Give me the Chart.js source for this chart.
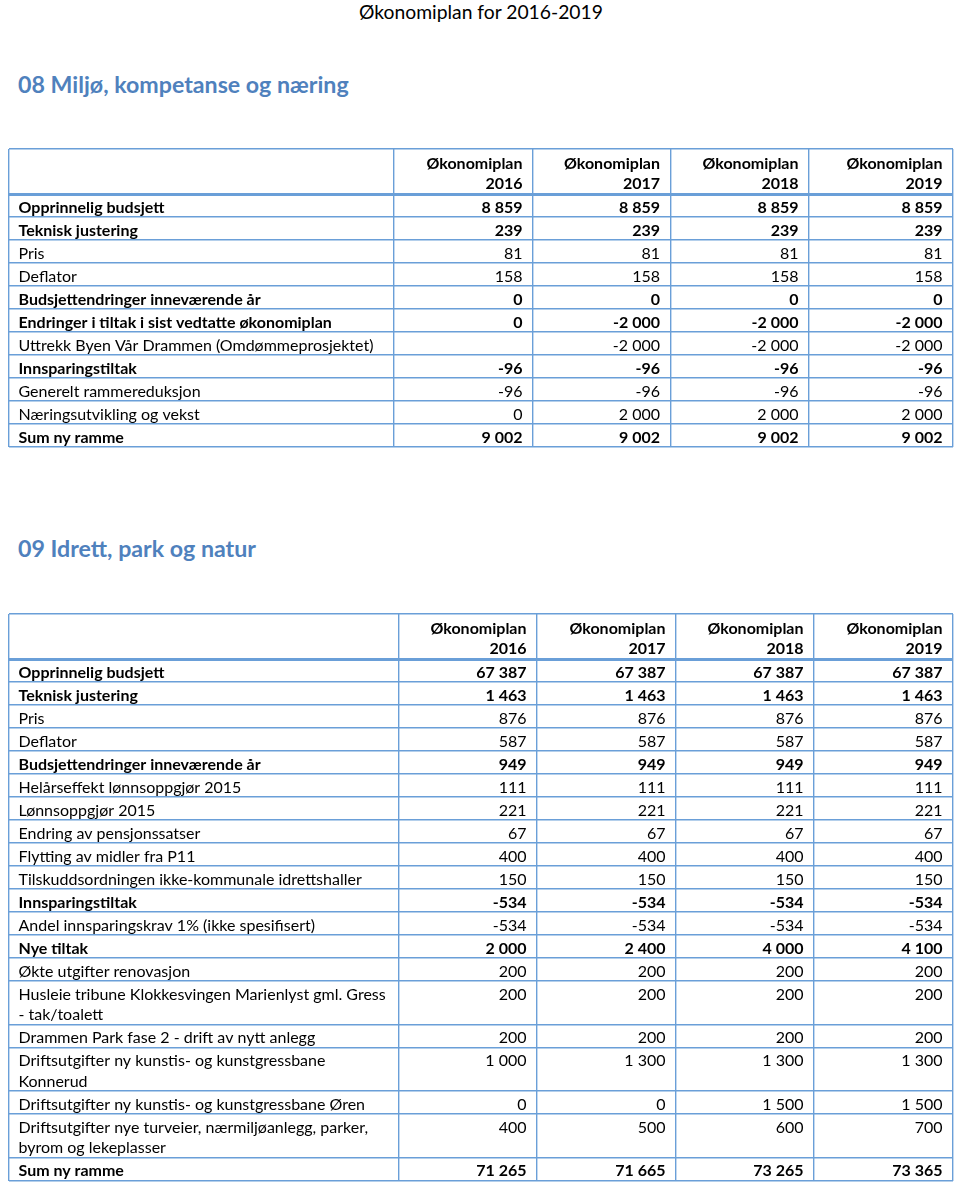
<!DOCTYPE html>
<html lang="no">
<head>
<meta charset="utf-8">
<title>Økonomiplan for 2016-2019</title>
<script src="https://cdn.jsdelivr.net/npm/chart.js@4.4.0/dist/chart.umd.min.js"></script>
<style>
  html, body { margin: 0; padding: 0; background: #fff; }
  body { width: 960px; height: 1183px; position: relative; overflow: hidden; font-family: Lato, 'Open Sans', sans-serif; }
  .page-head { position: absolute; top: 0; left: 0; width: 962px; text-align: center; font-size: 19.3px; line-height: 24px; color: #000; }
  h2 { position: absolute; left: 18px; margin: 0; font-size: 23.2px; line-height: 28px; font-weight: 700; color: #4f81bd; }
  canvas { position: absolute; left: 0; }
</style>
</head>
<body>
<div class="page-head">Økonomiplan for 2016-2019</div>
<h2 style="top:70px">08 Miljø, kompetanse og næring</h2>
<canvas id="tbl08"></canvas>
<h2 style="top:534px">09 Idrett, park og natur</h2>
<canvas id="tbl09"></canvas>

<script>
'use strict';

// ─── DATA ────────────────────────────────────────────────────

const YEARS = ['2016', '2017', '2018', '2019'];
const HEAD_WORD = 'Økonomiplan';

// 08 Miljø, kompetanse og næring
const T08_LABELS = [
  'Opprinnelig budsjett',
  'Teknisk justering',
  'Pris',
  'Deflator',
  'Budsjettendringer inneværende år',
  'Endringer i tiltak i sist vedtatte økonomiplan',
  'Uttrekk Byen Vår Drammen (Omdømmeprosjektet)',
  'Innsparingstiltak',
  'Generelt rammereduksjon',
  'Næringsutvikling og vekst',
  'Sum ny ramme'
];
const T08_BOLD = [true, true, false, false, true, true, false, true, false, false, true];
const T08_2016 = [8859, 239, 81, 158, 0, 0, null, -96, -96, 0, 9002];
const T08_2017 = [8859, 239, 81, 158, 0, -2000, -2000, -96, -96, 2000, 9002];
const T08_2018 = [8859, 239, 81, 158, 0, -2000, -2000, -96, -96, 2000, 9002];
const T08_2019 = [8859, 239, 81, 158, 0, -2000, -2000, -96, -96, 2000, 9002];

// 09 Idrett, park og natur
const T09_LABELS = [
  'Opprinnelig budsjett',
  'Teknisk justering',
  'Pris',
  'Deflator',
  'Budsjettendringer inneværende år',
  'Helårseffekt lønnsoppgjør 2015',
  'Lønnsoppgjør 2015',
  'Endring av pensjonssatser',
  'Flytting av midler fra P11',
  'Tilskuddsordningen ikke-kommunale idrettshaller',
  'Innsparingstiltak',
  'Andel innsparingskrav 1% (ikke spesifisert)',
  'Nye tiltak',
  'Økte utgifter renovasjon',
  ['Husleie tribune Klokkesvingen Marienlyst gml. Gress', '- tak/toalett'],
  'Drammen Park fase 2 - drift av nytt anlegg',
  ['Driftsutgifter ny kunstis- og kunstgressbane', 'Konnerud'],
  'Driftsutgifter ny kunstis- og kunstgressbane Øren',
  ['Driftsutgifter nye turveier, nærmiljøanlegg, parker,', 'byrom og lekeplasser'],
  'Sum ny ramme'
];
const T09_BOLD = [true, true, false, false, true, false, false, false, false, false,
                  true, false, true, false, false, false, false, false, false, true];
const T09_2016 = [67387, 1463, 876, 587, 949, 111, 221, 67, 400, 150, -534, -534, 2000, 200, 200, 200, 1000, 0, 400, 71265];
const T09_2017 = [67387, 1463, 876, 587, 949, 111, 221, 67, 400, 150, -534, -534, 2400, 200, 200, 200, 1300, 0, 500, 71665];
const T09_2018 = [67387, 1463, 876, 587, 949, 111, 221, 67, 400, 150, -534, -534, 4000, 200, 200, 200, 1300, 1500, 600, 73265];
const T09_2019 = [67387, 1463, 876, 587, 949, 111, 221, 67, 400, 150, -534, -534, 4100, 200, 200, 200, 1300, 1500, 700, 73365];

// ─── LAYOUT ──────────────────────────────────────────────────

const BORDER = '#6a9fd8';
const FONT = "Lato, 'Open Sans', sans-serif";
const FONT_SIZE = 16;
const LINE_H = 20.6;
const ROW_PAD = 2.4;
const HEAD_H = 45;

function fmt(v) {
  if (v === null || v === undefined) return '';
  const s = Math.abs(v).toString().replace(/\B(?=(\d{3})+(?!\d))/g, ' ');
  return (v < 0 ? '-' : '') + s;
}

// cell text drawn on top of the grid, positioned with the chart's scales
const tableText = {
  id: 'tableText',
  afterDraw(chart, args, o) {
    const { ctx, scales: { x, y } } = chart;
    const edges = o.edges;
    ctx.save();
    ctx.fillStyle = '#000';
    ctx.textBaseline = 'middle';

    // header
    ctx.font = `bold ${FONT_SIZE}px ${FONT}`;
    ctx.textAlign = 'right';
    YEARS.forEach((yr, c) => {
      const px = x.getPixelForValue(edges[c + 2]) - 10.5;
      ctx.fillText(HEAD_WORD, px, y.getPixelForValue(0) + 14.5);
      ctx.fillText(yr, px, y.getPixelForValue(0) + 35);
    });

    o.labels.forEach((label, i) => {
      const lines = Array.isArray(label) ? label : [label];
      const top = y.getPixelForValue(o.bounds[i + 1]);
      ctx.font = `${o.bold[i] ? 'bold ' : ''}${FONT_SIZE}px ${FONT}`;
      ctx.textAlign = 'left';
      lines.forEach((ln, k) => {
        ctx.fillText(ln, x.getPixelForValue(edges[0]) + 9.5, top + 13.5 + k * 20.5);
      });
      ctx.textAlign = 'right';
      o.cols.forEach((col, c) => {
        ctx.fillText(fmt(col[i]), x.getPixelForValue(edges[c + 2]) - 10.5, top + 13.5);
      });
    });
    ctx.restore();
  }
};

function makeTable(id, top, edges, labels, bold, cols) {
  const bounds = [0, HEAD_H];
  labels.forEach(l => {
    const n = Array.isArray(l) ? l.length : 1;
    bounds.push(bounds[bounds.length - 1] + n * LINE_H + ROW_PAD);
  });
  const total = bounds[bounds.length - 1];

  const canvas = document.getElementById(id);
  canvas.width = 960;
  canvas.height = Math.ceil(total) + 4;
  canvas.style.top = (top - 2) + 'px';

  const left = 9;
  const right = 960 - (left + edges[edges.length - 1]);

  return new Chart(canvas, {
    type: 'scatter',
    data: { datasets: [] },
    options: {
      responsive: false,
      animation: false,
      events: [],
      layout: { padding: { left, right, top: 2, bottom: canvas.height - 2 - total } },
      plugins: {
        legend: { display: false },
        tooltip: { enabled: false },
        tableText: { edges, labels, bold, cols, bounds }
      },
      scales: {
        x: {
          type: 'linear',
          min: edges[0],
          max: edges[edges.length - 1],
          afterBuildTicks: s => { s.ticks = edges.map(value => ({ value })); },
          ticks: { display: false },
          grid: { color: BORDER, lineWidth: 1.4, drawTicks: false },
          border: { display: false }
        },
        y: {
          type: 'linear',
          reverse: true,
          min: 0,
          max: total,
          afterBuildTicks: s => { s.ticks = bounds.map(value => ({ value })); },
          ticks: { display: false },
          grid: {
            color: BORDER,
            lineWidth: c => (c.tick && c.tick.value === HEAD_H ? 3 : 1.4),
            drawTicks: false
          },
          border: { display: false }
        }
      }
    },
    plugins: [tableText]
  });
}

function build() {
  makeTable('tbl08', 149, [0, 385, 524, 661.5, 800, 944],
    T08_LABELS, T08_BOLD, [T08_2016, T08_2017, T08_2018, T08_2019]);
  makeTable('tbl09', 614, [0, 390, 528, 667, 805, 944],
    T09_LABELS, T09_BOLD, [T09_2016, T09_2017, T09_2018, T09_2019]);
}

Promise.all([
  document.fonts.load(`${FONT_SIZE}px Lato`),
  document.fonts.load(`bold ${FONT_SIZE}px Lato`)
]).then(build, build);
</script>
</body>
</html>
